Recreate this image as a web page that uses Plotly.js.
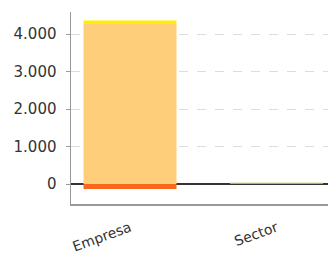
<!DOCTYPE html>
<html>
<head>
<meta charset="utf-8">
<script src="https://cdn.plot.ly/plotly-3.0.1.min.js"></script>
<style>html,body{margin:0;padding:0;background:#fff;}#chart{width:328px;height:253px;}</style>
</head>
<body>
<div id="chart"></div>
<script>
const categories = ['Empresa', 'Sector'];
const baseValues = [4270, 0];
const topValues = [90, 0];
const negativeValues = [-130, 0];
const sectorValues = [0, 35];
const yTickVals = [0, 1000, 2000, 3000, 4000];

const common = {type: 'bar', x: categories, width: 0.635, hoverinfo: 'skip'};
const traces = [
  Object.assign({}, common, {y: baseValues, marker: {color: '#FECE7A', line: {width: 0}}}),
  Object.assign({}, common, {y: topValues, marker: {color: '#FFF000', line: {width: 0}}}),
  Object.assign({}, common, {y: negativeValues, marker: {color: '#F7681E', line: {width: 0}}}),
  Object.assign({}, common, {y: sectorValues, marker: {color: '#B4BC2C', line: {width: 0}}})
];

const layout = {
  width: 328, height: 253,
  margin: {l: 71, r: 0, t: 12, b: 49},
  barmode: 'relative',
  showlegend: false,
  paper_bgcolor: '#fff', plot_bgcolor: '#fff',
  separators: ',.',
  font: {family: 'DejaVu Sans', color: '#333'},
  xaxis: {
    range: [-0.403, 1.352],
    showgrid: false,
    showline: true, linecolor: '#999', linewidth: 1.5,
    ticks: '', tickangle: -20,
    ticklabelstandoff: 9,
    tickfont: {size: 14, color: '#333'},
    zeroline: false
  },
  yaxis: {
    range: [-533, 4587],
    tickvals: yTickVals,
    tickformat: ',d',
    showgrid: true, gridcolor: '#dcdcdc', griddash: 'dash', gridwidth: 1,
    showline: true, linecolor: '#999', linewidth: 1.5,
    ticks: 'outside', ticklen: 4, tickcolor: '#999',
    ticklabelstandoff: 6,
    tickfont: {size: 15, color: '#333'},
    zeroline: true, zerolinecolor: '#333', zerolinewidth: 2.5,
    layer: 'above traces'
  }
};

Plotly.newPlot('chart', traces, layout, {staticPlot: true, displayModeBar: false});
</script>
</body>
</html>
